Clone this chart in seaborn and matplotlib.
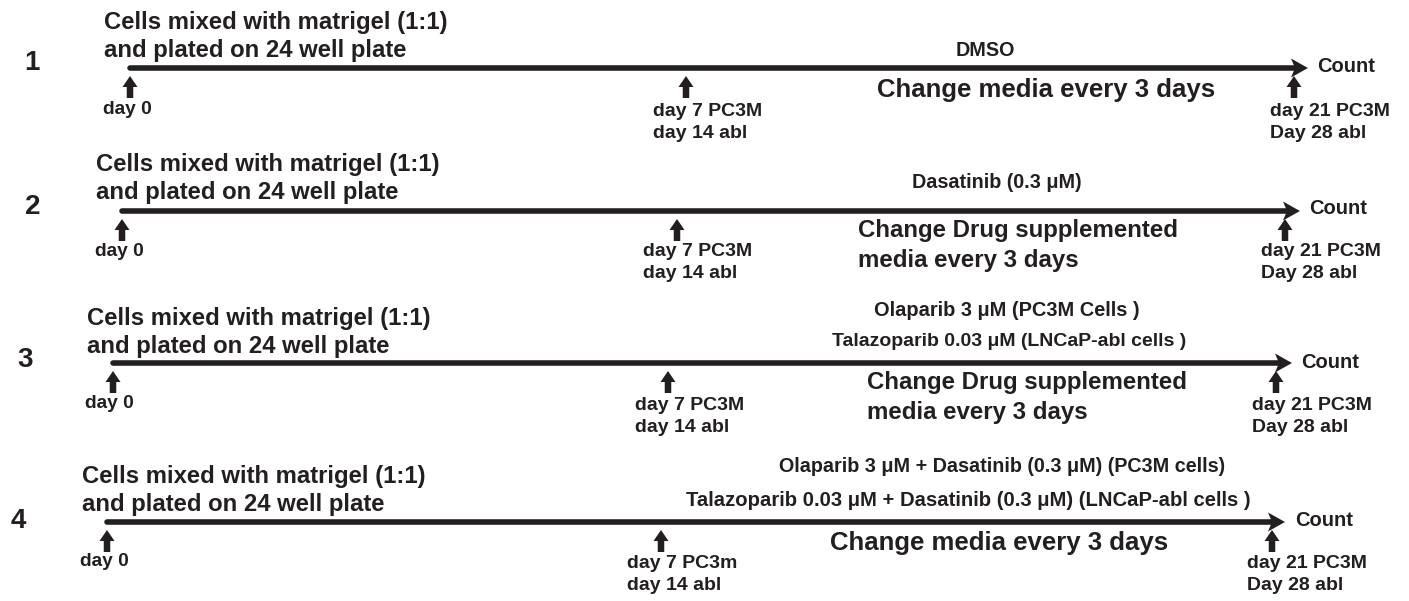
import matplotlib.pyplot as plt
import seaborn as sns
import pandas as pd

sns.set_theme(style='white')
plt.rcParams['font.family'] = ['Liberation Sans', 'DejaVu Sans']
plt.rcParams['font.weight'] = 'bold'

# text content of the four protocols
row_ids = ['1', '2', '3', '4']
setup_text = ['Cells mixed with matrigel (1:1)', 'and plated on 24 well plate']
start_label = 'day 0'
mid_labels = [['day 7 PC3M', 'day 14 abl'],
              ['day 7 PC3M', 'day 14 abl'],
              ['day 7 PC3M', 'day 14 abl'],
              ['day 7 PC3m', 'day 14 abl']]
end_labels = ['day 21 PC3M', 'Day 28 abl']
end_text = 'Count'
treatments = [['DMSO'],
              ['Dasatinib (0.3 μM)'],
              ['Olaparib 3 μM (PC3M Cells )',
               'Talazoparib 0.03 μM (LNCaP-abl cells )'],
              ['Olaparib 3 μM + Dasatinib (0.3 μM) (PC3M cells)',
               'Talazoparib 0.03 μM + Dasatinib (0.3 μM) (LNCaP-abl cells )']]
media = [['Change media every 3 days'],
         ['Change Drug supplemented', 'media every 3 days'],
         ['Change Drug supplemented', 'media every 3 days'],
         ['Change media every 3 days']]

# layout in pixels (figure is 1409 x 601)
line_y = [68, 211, 363, 522]
line_start = [130, 122, 113, 107]
line_tip = [1308, 1300, 1292, 1285]
mid_x = [686, 677, 668, 661]
end_x = [1294, 1285, 1276, 1272]
num_x = [32, 33, 25, 18]
num_y = [63, 207, 360, 521]
setup_x = [104, 96, 87, 82]
setup_y = [23, 164, 319, 476]
day0_x = [103, 95, 85, 80]
day0_y = [110, 251, 403, 562]
mid_lx = [653, 643, 635, 627]
end_lx = [1270, 1261, 1252, 1247]
lab_y = [111, 252, 405, 564]
count_x = [1317, 1309, 1301, 1295]
count_y = [66, 209, 362, 520]
# treatment lines: (x, y, anchor, size)
treat_pos = [[(985, 51, 'center', 14.2)],
             [(997, 183, 'center', 14.2)],
             [(1007, 311, 'center', 14.4), (1009, 341, 'center', 14)],
             [(779, 466, 'left', 14.2), (686, 500, 'left', 14.6)]]
media_x = [877, 858, 867, 830]
media_y = [[90], [231, 260], [383, 412], [543]]
media_fs = [18.5, 17.3, 17.3, 18.5]

ink = '#231f20'

fig = plt.figure(figsize=(14.09, 6.01), dpi=100)
ax = fig.add_axes([0, 0, 1, 1])

# timeline shafts
seg = pd.DataFrame({
    'x': [v for a, b in zip(line_start, line_tip) for v in (a, b - 12)],
    'y': [v for y in line_y for v in (y, y)],
    'row': [r for r in row_ids for _ in range(2)],
})
sns.lineplot(data=seg, x='x', y='y', units='row', estimator=None, sort=False,
             color=ink, linewidth=4, ax=ax, legend=False)
ax.set_xlim(0, 1409)
ax.set_ylim(601, 0)
ax.axis('off')


def up_arrow(x, top):
    ax.arrow(x, top + 22, 0, -22, width=6.5, head_width=15, head_length=11,
             length_includes_head=True, fc=ink, ec='none')


for i in range(4):
    y = line_y[i]
    tip = line_tip[i]
    # arrow head at end of timeline
    ax.fill([tip, tip - 17, tip - 13, tip - 17], [y, y - 9.5, y, y + 9.5],
            color=ink, lw=0)
    # event arrows (day 0, day 7/14, day 21/28)
    top = y + 8
    for x in (line_start[i], mid_x[i], end_x[i]):
        up_arrow(x, top)

    ax.text(num_x[i], num_y[i], row_ids[i], fontsize=20, ha='center',
            va='center', color=ink)
    for k, t in enumerate(setup_text):
        ax.text(setup_x[i], setup_y[i] + 28 * k, t, fontsize=17.2,
                ha='left', va='center', color=ink)
    ax.text(day0_x[i], day0_y[i], start_label, fontsize=13.8, ha='left',
            va='center', color=ink)
    for k, t in enumerate(mid_labels[i]):
        ax.text(mid_lx[i], lab_y[i] + 22 * k, t, fontsize=14, ha='left',
                va='center', color=ink)
    for k, t in enumerate(end_labels):
        ax.text(end_lx[i], lab_y[i] + 22 * k, t, fontsize=14, ha='left',
                va='center', color=ink)
    ax.text(count_x[i], count_y[i], end_text, fontsize=14.5, ha='left',
            va='center', color=ink)
    for t, (tx, ty, anchor, fs) in zip(treatments[i], treat_pos[i]):
        ax.text(tx, ty, t, fontsize=fs, ha=anchor, va='center', color=ink)
    for t, my in zip(media[i], media_y[i]):
        ax.text(media_x[i], my, t, fontsize=media_fs[i], ha='left',
                va='center', color=ink)

fig.savefig('out.png', dpi=100, facecolor='white')
